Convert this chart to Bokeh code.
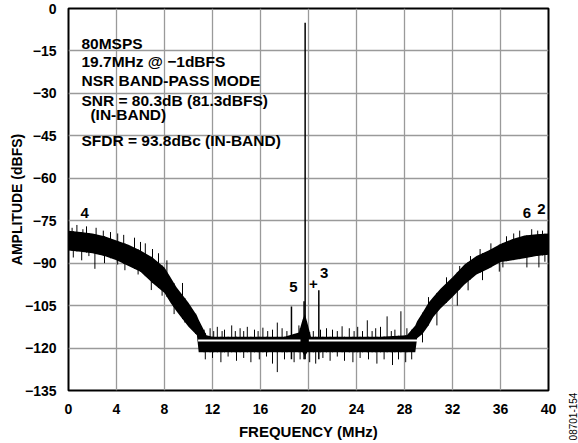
import numpy as np
from bokeh.plotting import figure
from bokeh.models import FixedTicker, Label
from bokeh.core.properties import value
from bokeh.embed import file_html
from bokeh.resources import INLINE

FONT = "Liberation Sans"

# ---------------- data ----------------
X_TICKS = [0, 4, 8, 12, 16, 20, 24, 28, 32, 36, 40]
Y_TICKS = [0, -15, -30, -45, -60, -75, -90, -105, -120, -135]
Y_TICK_LABELS = ["0", "\u221215", "\u221230", "\u221245", "\u221260", "\u221275",
                 "\u221290", "\u2212105", "\u2212120", "\u2212135"]

# dense noise band (upper / lower edge), MHz vs dBFS
ENV_F = [0, 1, 2, 3, 4, 5, 6, 7, 8, 8.5, 9, 10, 10.7, 10.85, 11.5, 12, 14, 16, 18,
         19.2, 19.5, 19.7, 19.9, 20.2, 22, 24, 26, 28.2, 28.9, 29.05, 29.5, 30, 30.4,
         31, 32, 33, 34, 35, 36, 37, 38, 39, 40]
ENV_HI = [-78.5, -79, -79.5, -80.5, -82, -83.5, -85.5, -88, -91.5, -95, -98.5, -104,
          -108.5, -110, -115.5, -116, -116, -116, -116, -114.5, -110, -108, -111, -116,
          -116, -116, -116, -115.5, -112, -110.5, -107.5, -104, -102, -99, -95, -90.5,
          -87.5, -85.5, -83.2, -81.5, -80.2, -79.8, -79.5]
ENV_LO = [-85.5, -86, -86.5, -87.5, -89, -91, -93, -97, -100.5, -104, -107, -112.5,
          -115.5, -121.5, -121.5, -121.5, -121.5, -121.5, -121.5, -121.5, -121.5, -123,
          -121.5, -121.5, -121.5, -121.5, -121.5, -121.5, -121.5, -116.5, -115, -112,
          -109, -106, -102, -97.5, -94, -92, -89.6, -89, -88.3, -87.5, -87]

# upward noise spikes (tops)
UP_F = [0.3, 0.7, 1.2, 1.5, 2.3, 2.9, 3.5, 4.1, 4.6, 5.5, 6.0, 6.4, 7.0, 7.5, 8.2, 9.5,
        11.3, 11.8, 12.1, 12.4, 12.8, 13.0, 13.6, 13.9, 14.3, 14.6, 14.9, 15.5, 15.8,
        16.2, 16.6, 17.0, 17.4, 17.8, 18.2, 19.2,
        20.4, 21.0, 21.5, 22.0, 22.4, 22.8, 23.4, 23.8, 24.1, 24.5, 24.9, 25.3, 25.6,
        26.0, 26.55, 26.9, 27.2, 27.7, 28.2,
        30.0, 31.5, 32.6, 33.5, 34.3, 35.2, 36.5, 37.1, 37.6, 38.6, 39.1, 39.5]
UP_DB = [-77.5, -76.5, -78, -77, -77.5, -78.5, -79, -79.5, -80, -81, -82.5, -83, -85,
         -86.5, -89, -97,
         -113.5, -113, -114, -112.5, -114, -113.5, -112, -114, -113, -114, -112.5,
         -113.5, -114, -112.8, -114, -113.5, -111, -113, -114, -112,
         -114, -113.5, -113, -113.5, -114, -112.3, -113, -114, -112.5, -114, -110.2,
         -114, -113, -112.5, -108.8, -114, -113.5, -107, -113,
         -102, -95, -91, -87.5, -85, -83, -80.5, -79.5, -78.5, -78, -78.5, -78.5]

# downward noise spikes (bottoms)
DOWN_F = [0.4, 1.1, 1.7, 2.2, 3.0, 4.1, 4.7, 5.8, 6.9, 7.8, 8.8, 9.7, 10.6,
          11.4, 12.0, 12.7, 13.3, 14.0, 14.6, 15.2, 15.9, 16.5, 17.0, 17.4, 18.0, 18.8,
          19.3, 20.1, 20.6, 21.2, 21.8, 22.4, 23.0, 23.7, 24.3, 25.0, 25.7, 26.3, 27.0,
          27.5, 28.1, 28.6, 29.5, 30.7, 32.4, 33.3, 34.5, 35.9, 36.2, 38.2, 39.2, 39.7]
DOWN_DB = [-88, -89, -87.5, -92, -90, -90.5, -92.5, -94, -99.5, -101.5, -108, -111,
           -115, -124, -123.5, -125, -123, -124.5, -123.5, -125, -124, -123, -125.5,
           -128.5, -124, -125, -124, -125, -125.5, -123.5, -124.5, -123, -124.5, -125,
           -123.5, -124, -125.5, -124, -126, -124, -125, -124, -118, -112, -105, -99.6,
           -96, -93, -91.5, -91.5, -91.5, -89.5]

# tones: fundamental, spur 5, carrier skirt line, spur 3
TONE_F = [19.72, 18.58, 19.63, 20.86]
TONE_DB = [-5, -105.3, -103.5, -99.6]
TONE_BASE = -124

# white average-floor marker
FLOOR_DB = -117.3
FLOOR_F0 = [10.8, 20.03]
FLOOR_F1 = [19.33, 29.1]

# harmonic markers
MARK_TEXT = ["4", "6", "2", "5", "+", "3"]
MARK_F = [1.35, 38.2, 39.4, 18.75, 20.4, 21.3]
MARK_DB = [-72.4, -72.4, -70.8, -98.3, -97.2, -93.5]

NOTE_LINES = ["80MSPS", "19.7MHz @ \u22121dBFS", "NSR BAND-PASS MODE",
              "SNR = 80.3dB (81.3dBFS)", "(IN-BAND)", "SFDR = 93.8dBc (IN-BAND)"]
NOTE_F = [1.08, 1.08, 1.08, 1.08, 1.83, 1.08]
NOTE_DB = [-12.3, -18.7, -25.3, -32.5, -37.3, -46.5]

# ---------------- figure ----------------
W, H = 578, 443
BL, BR, BT, BB = 68, 30, 8, 53
p = figure(width=W, height=H, x_range=(0, 40), y_range=(-135, 0),
           output_backend="svg", toolbar_location=None,
           min_border_left=BL, min_border_right=BR, min_border_top=BT,
           min_border_bottom=BB)
p.background_fill_color = "white"
p.border_fill_color = "white"
p.outline_line_color = "black"
p.outline_line_width = 2

for ax in (p.xaxis[0], p.yaxis[0]):
    ax.axis_line_color = None
    ax.major_tick_line_color = None
    ax.minor_tick_line_color = None
    ax.major_label_text_font = FONT
    ax.major_label_text_font_style = "bold"
    ax.major_label_text_color = "black"
    ax.major_label_text_font_size = "14px"
    ax.axis_label_text_font = FONT
    ax.axis_label_text_font_style = "bold"
    ax.axis_label_text_color = "black"

p.xaxis.axis_label_text_font_size = "15px"
p.yaxis.axis_label_text_font_size = "14px"
p.xaxis.ticker = FixedTicker(ticks=X_TICKS)
p.yaxis.ticker = FixedTicker(ticks=Y_TICKS)
p.yaxis.major_label_overrides = {t: l for t, l in zip(Y_TICKS, Y_TICK_LABELS)}
p.xaxis.axis_label = "FREQUENCY (MHz)"
p.yaxis.axis_label = "AMPLITUDE (dBFS)"
p.xaxis.major_label_standoff = 7
p.xaxis.axis_label_standoff = 6
p.yaxis.major_label_standoff = 6
p.yaxis.axis_label_standoff = -3

p.xgrid.ticker = FixedTicker(ticks=X_TICKS)
p.ygrid.ticker = FixedTicker(ticks=Y_TICKS)
for g in (p.xgrid[0], p.ygrid[0]):
    g.grid_line_color = "#9a9a9a"
    g.grid_line_width = 1.3

# noise band
p.varea(x=ENV_F, y1=ENV_LO, y2=ENV_HI, fill_color="black")

up_base = np.interp(UP_F, ENV_F, ENV_LO)
p.segment(x0=UP_F, y0=list(up_base), x1=UP_F, y1=UP_DB, line_color="black", line_width=1)
down_base = np.interp(DOWN_F, ENV_F, ENV_HI)
p.segment(x0=DOWN_F, y0=list(down_base), x1=DOWN_F, y1=DOWN_DB, line_color="black", line_width=1)

# tones
p.segment(x0=TONE_F, y0=[TONE_BASE] * len(TONE_F), x1=TONE_F, y1=TONE_DB,
          line_color="black", line_width=1.5)

# white floor marker
p.segment(x0=FLOOR_F0, y0=[FLOOR_DB] * 2, x1=FLOOR_F1, y1=[FLOOR_DB] * 2,
          line_color="white", line_width=2)

# markers
p.text(x=MARK_F, y=MARK_DB, text=MARK_TEXT, text_font=value(FONT),
       text_font_style="bold", text_font_size="15px", text_align="center",
       text_baseline="middle", text_color="black")

# notes
p.text(x=NOTE_F, y=NOTE_DB, text=NOTE_LINES, text_font=value(FONT),
       text_font_style="bold", text_font_size="15.5px", text_align="left",
       text_baseline="middle", text_color="black")

# figure id, outside the frame (side panel, so it is not clipped)
p.add_layout(Label(x=24, y=-26, x_units="screen", y_units="screen",
                   text="08701-154", angle=np.pi / 2,
                   text_font=FONT, text_font_size="10px", text_align="center",
                   text_baseline="middle", text_color="black"), "right")

open("out.html", "w").write(file_html(p, INLINE))
